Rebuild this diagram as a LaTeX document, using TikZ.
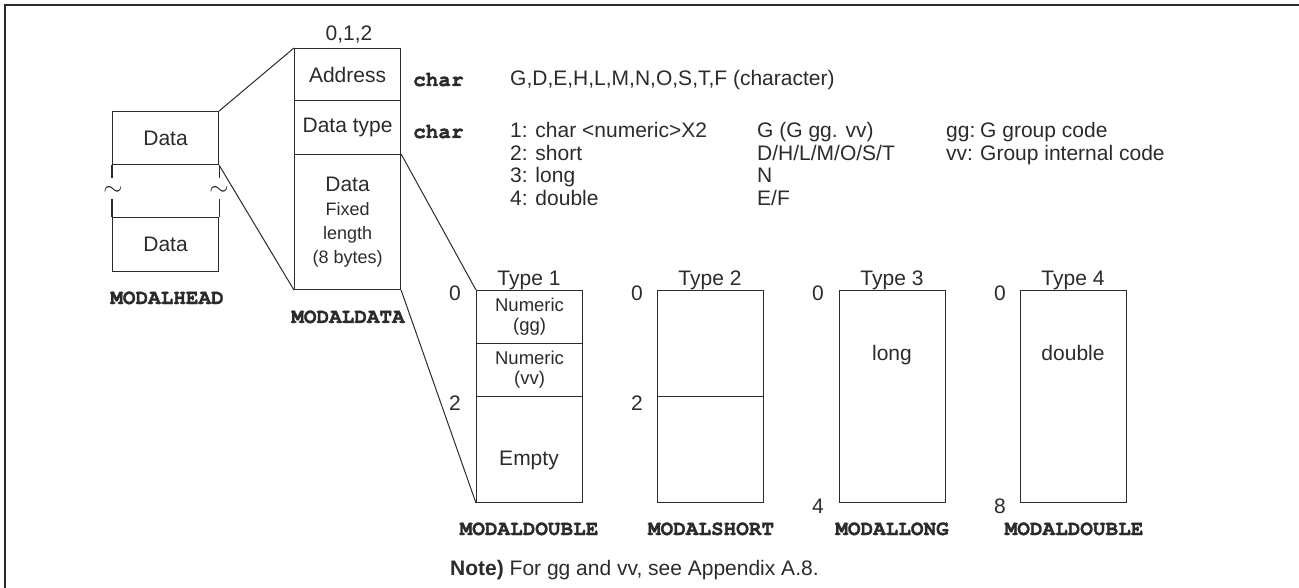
\documentclass[tikz,border=0pt]{standalone}
\usepackage{fontspec}
\setmainfont{Liberation Sans}
\setmonofont{texgyrecursor-regular.otf}[BoldFont=texgyrecursor-bold.otf, BoldFeatures={FakeBold=1.5}]
\usepackage{tikz}
\usetikzlibrary{positioning}
\definecolor{inkGray}{HTML}{2B2B2B}

\begin{document}
\begin{tikzpicture}[x=1pt, y=-1pt, inkGray,
  cell/.style={draw, line width=1.1pt, minimum width=106pt, inner sep=0pt,
    anchor=north west, align=center, font=\fontsize{21}{24}\selectfont},
  txt/.style={inner sep=0pt, anchor=base, font=\fontsize{21}{24}\selectfont},
  smalltxt/.style={font=\fontsize{18.5}{20}\selectfont},
  modname/.style={inner sep=0pt, anchor=base, font=\ttfamily\bfseries\fontsize{21}{22}\selectfont},
  link/.style={line width=1pt}]
\useasboundingbox (0,0) rectangle (1299,588);
\draw[line width=2.5pt] (5,588) -- (5,5) -- (1299,5);

% MODALHEAD
\node[cell, minimum height=53pt] (hd1) at (112,111) {Data};
\node[cell, minimum height=54pt] (hd2) at (112,217) {Data};
\draw[line width=1.1pt] (hd1.south west) -- ++(0,13)  (hd1.south east) -- ++(0,13);
\draw[line width=1.1pt] (hd2.north west) -- ++(0,-18) (hd2.north east) -- ++(0,-18);
\node[font=\fontsize{27}{27}\selectfont, inner sep=0pt] (cutl) at (113,191) {$\sim$};
\node[font=\fontsize{27}{27}\selectfont, inner sep=0pt] (cutr) at (219,191) {$\sim$};
\node[modname] (headname) at (167,304) {MODALHEAD};

% MODALDATA
\node[txt] (idx) at (349,41) {0,1,2};
\node[cell, minimum height=52pt] (addr) at (294,48) {Address};
\node[cell, minimum height=54pt] (dtype) at (294,100) {Data type};
\node[cell, minimum height=135pt, font=\fontsize{18}{24}\selectfont] (fixed) at (294,154)
  {{\fontsize{21}{24}\selectfont Data}\\Fixed\\length\\(8 bytes)};
\node[modname] (dataname) at (348,323) {MODALDATA};

\draw[link] (hd1.north east) -- (addr.north west);
\draw[link] (hd1.south east) -- (fixed.south west);

% field descriptions
\node[modname, anchor=base west] (c1) at (413,86) {char};
\node[txt, anchor=base west] (chars) at (510,86) {G,D,E,H,L,M,N,O,S,T,F (character)};
\node[modname, anchor=base west] (c2) at (413,138) {char};
\foreach \i/\a/\b in {0/1: char <numeric>X2/G (G gg. vv), 1/2: short/{D/H/L/M/O/S/T},
  2/3: long/N, 3/4: double/{E/F}}
{
  \node[txt, anchor=base west] (ta\i) at (510,138+22.5*\i) {\a};
  \node[txt, anchor=base west] (tb\i) at (757,138+22.5*\i) {\b};
}
\node[txt, anchor=base west] (gg) at (946,138) {gg:};
\node[txt, anchor=base west] (ggtxt) at (980,138) {G group code};
\node[txt, anchor=base west] (vv) at (946,160.5) {vv:};
\node[txt, anchor=base west] (vvtxt) at (980,160.5) {Group internal code};

% Type 1
\node[cell, minimum height=53pt, smalltxt] (t1a) at (476,290) {Numeric\\(gg)};
\node[cell, minimum height=53pt, smalltxt] (t1b) at (476,343) {Numeric\\(vv)};
\node[cell, minimum height=106pt] (t1c) at (476,396) {};
\node[txt] (empty) at (529,465) {Empty};
\draw[link] (fixed.north east) -- (t1a.north west);
\draw[link] (fixed.south east) -- (t1c.south west);

% Type 2
\node[cell, minimum height=106pt] (t2a) at (657,290) {};
\node[cell, minimum height=106pt] (t2b) at (657,396) {};

% Type 3 and 4
\node[cell, minimum height=212pt] (t3) at (839,290) {};
\node[cell, minimum height=212pt] (t4) at (1020,290) {};
\node[txt] (longtxt) at (892,360) {long};
\node[txt] (dbltxt) at (1073,360) {double};

\foreach \n/\x in {1/529, 2/710, 3/892, 4/1073}
  \node[txt] (type\n) at (\x,286) {Type \n};
\foreach \x/\y/\v in {455/300/0, 455/410/2, 637/300/0, 637/410/2,
  818/300/0, 818/513/4, 1000/300/0, 1000/513/8}
  \node[txt] at (\x,\y) {\v};

\node[modname] (name1) at (529,535) {MODALDOUBLE};
\node[modname] (name2) at (711,535) {MODALSHORT};
\node[modname] (name3) at (892,535) {MODALLONG};
\node[modname] (name4) at (1074,535) {MODALDOUBLE};

\node[txt, anchor=base west] (note) at (450,575) {\textbf{Note)} For gg and vv, see Appendix A.8.};
\end{tikzpicture}
\end{document}
